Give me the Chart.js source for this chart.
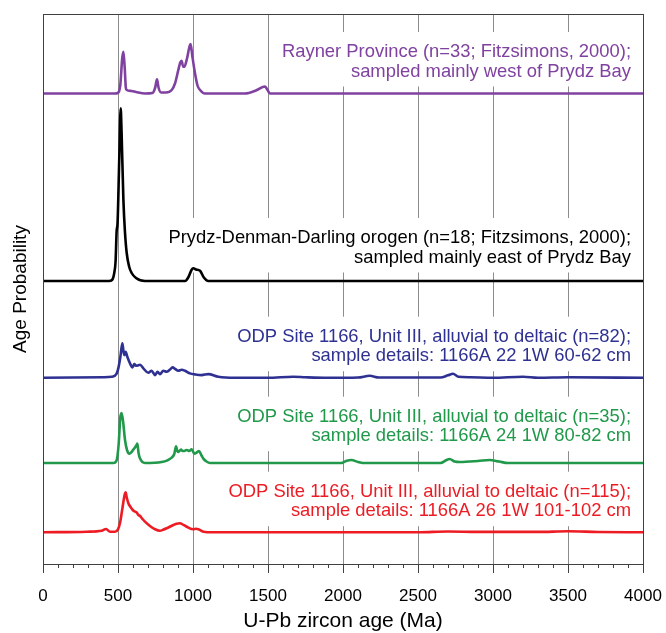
<!DOCTYPE html>
<html><head><meta charset="utf-8">
<script src="https://cdn.jsdelivr.net/npm/chart.js@4/dist/chart.umd.min.js"></script>
<style>html,body{margin:0;padding:0;background:#fff;}#wrap{width:666px;height:633px;}</style>
</head><body><div id="wrap"><canvas id="c" width="666" height="633"></canvas></div>
<script>
// ---- data ----
const xTickValues = [0, 500, 1000, 1500, 2000, 2500, 3000, 3500, 4000];
const xAxisTitle = 'U-Pb zircon age (Ma)';
const yAxisTitle = 'Age Probability';

const seriesNames = ['Rayner Province', 'Prydz-Denman-Darling orogen', 'ODP 1166A 22 1W', 'ODP 1166A 24 1W', 'ODP 1166A 26 1W'];
const seriesColors = ['#8042A0', '#000000', '#2E3192', '#20994A', '#ED1C24'];
// vertical offset (stacking) of each curve, in chart units
const seriesOffsets = [470.5, 283, 186.2, 101, 31.7];

const labelLines = [
  ['Rayner Province (n=33; Fitzsimons, 2000);', 'sampled mainly west of Prydz Bay'],
  ['Prydz-Denman-Darling orogen (n=18; Fitzsimons, 2000);', 'sampled mainly east of Prydz Bay'],
  ['ODP Site 1166, Unit III, alluvial to deltaic (n=82);', 'sample details: 1166A 22 1W 60-62 cm'],
  ['ODP Site 1166, Unit III, alluvial to deltaic (n=35);', 'sample details: 1166A 24 1W 80-82 cm'],
  ['ODP Site 1166, Unit III, alluvial to deltaic (n=115);', 'sample details: 1166A 26 1W 101-102 cm']
];

const raynerAge  = [0, 480, 498, 515, 528, 536, 545, 552, 558, 590, 620, 680, 730, 748, 760, 770, 787, 820, 858, 880, 902, 915, 924, 934, 942, 960, 975, 984, 995, 1013, 1030, 1047, 1080, 1347, 1420, 1480, 1495, 1513, 4000];
const raynerProb = [0, 0, 0.5, 8, 35, 41.8, 25, 6, 3.5, 2.5, 1.5, 0, 0.5, 6, 14.2, 6, 1, 1, 3.5, 10, 23.5, 31, 32.8, 27, 26.8, 35, 46, 49.5, 38, 20.5, 8, 3.5, 0, 0, 3, 7, 4, 0, 0];

const prydzAge  = [0, 440, 460, 475, 484, 491, 497, 508, 518, 524, 536, 546, 558, 575, 591, 620, 680, 947, 970, 990, 1002, 1020, 1047, 1070, 1102, 4000];
const prydzProb = [0, 0, 1, 8, 20, 50, 58, 120, 172.7, 147.7, 81, 50, 28, 14, 8, 3, 0, 0, 4, 11, 12.7, 11.5, 10.3, 4, 0, 0];

const odp22Age  = [0, 400, 458, 490, 502, 515, 529, 536, 542, 551, 562, 580, 596, 609, 620, 631, 647, 669, 702, 724, 747, 764, 780, 802, 824, 845, 864, 880, 902, 925, 947, 980, 1013, 1058, 1102, 1169, 1280, 1500, 1667, 1750, 1900, 2100, 2178, 2240, 2650, 2700, 2733, 2770, 2850, 3000, 3200, 3300, 3500, 4000];
const odp22Prob = [0, 0.5, 1, 4, 9.4, 20, 34.4, 27, 22.7, 26, 21, 14.4, 10.4, 13.7, 12, 12.4, 13, 9.4, 5, 7, 2.7, 6, 3.7, 7, 6, 8, 10.4, 9, 7, 8, 7, 4.4, 3.4, 2.7, 3.7, 1, 0, 0, 1, 0.5, 0, 0.3, 2, 0.3, 0.3, 2.5, 4, 1, 0.5, 0, 1, 0, 0.5, 0];

const odp24Age  = [0, 470, 491, 505, 515, 524, 535, 547, 560, 576, 590, 602, 620, 629, 637, 647, 680, 791, 858, 875, 887, 895, 902, 920, 930, 942, 955, 964, 975, 991, 1009, 1025, 1040, 1055, 1069, 1090, 1113, 1990, 2020, 2056, 2100, 2133, 2650, 2690, 2711, 2745, 2778, 2900, 2978, 3040, 3100, 4000];
const odp24Prob = [0, 0, 2.7, 20, 45, 50, 40, 22.7, 13, 9.4, 11, 13.4, 17, 19.4, 10, 4.4, 0, 1, 5.4, 9, 16.7, 12, 11, 13.4, 12, 12, 13, 12.7, 12, 13.7, 9.4, 10.5, 12, 8, 4.4, 1.5, 0, 0, 2, 3, 1, 0, 0, 3, 4, 1.5, 1, 2, 3, 1.5, 0, 0];

const odp26Age  = [0, 291, 391, 420, 447, 480, 500, 513, 531, 545, 551, 558, 569, 585, 598, 610, 624, 635, 647, 660, 680, 713, 747, 780, 800, 824, 869, 890, 913, 935, 958, 1002, 1020, 1036, 1069, 1136, 2500, 2700, 2900, 3300, 3500, 3700, 4000];
const odp26Prob = [0, 0.6, 1.6, 3.3, 0.6, 0.6, 3, 9, 25.6, 38, 40, 35, 29, 25, 22.3, 21, 20, 17.5, 16.3, 14, 10.6, 6.3, 3, 1.6, 2.5, 4, 7.3, 8.5, 9, 7.5, 5.6, 3, 3.5, 3, 0.6, 0, 0, 0.8, 0.4, 0.4, 1, 0.3, 0];

const seriesAges  = [raynerAge, prydzAge, odp22Age, odp24Age, odp26Age];
const seriesProbs = [raynerProb, prydzProb, odp22Prob, odp24Prob, odp26Prob];

// ---- layout / style ----
const FONT = '"Liberation Sans", Arial, Helvetica, sans-serif';
const labelAnchorAge = 3920;         // right edge of the text blocks
const labelFirstLineY = [512, 326, 227.3, 147.3, 72.3];
const labelLineGap = 19.5;

const datasets = seriesNames.map((name, i) => ({
  label: name,
  data: seriesAges[i].map((a, k) => ({x: a, y: seriesOffsets[i] + seriesProbs[i][k]})),
  borderColor: seriesColors[i],
  borderWidth: 2.6,
  pointRadius: 0,
  fill: false,
  cubicInterpolationMode: 'monotone'
}));

const decor = {
  id: 'decor',
  beforeDatasetsDraw(chart) {
    const {ctx, scales: {x, y}} = chart;
    ctx.save();
    ctx.font = '18.4px ' + FONT;
    ctx.textAlign = 'right';
    ctx.textBaseline = 'middle';
    labelLines.forEach((lines, i) => {
      const xr = x.getPixelForValue(labelAnchorAge);
      const y1 = y.getPixelForValue(labelFirstLineY[i]);
      const y2 = y1 + labelLineGap;
      const w = Math.max(...lines.map(t => ctx.measureText(t).width));
      ctx.fillStyle = '#ffffff';
      ctx.fillRect(xr - w - 8, y1 - 20, w + 12, (y2 + 15) - (y1 - 20));
      ctx.fillStyle = seriesColors[i];
      ctx.fillText(lines[0], xr, y1);
      ctx.fillText(lines[1], xr, y2);
    });
    ctx.restore();
  },
  afterDraw(chart) {
    const {ctx, chartArea: a, scales: {x}} = chart;
    ctx.save();
    ctx.strokeStyle = '#404040';
    ctx.lineWidth = 1;
    ctx.strokeRect(Math.round(a.left) + 0.5, Math.round(a.top) + 0.5, Math.round(a.right - a.left), Math.round(a.bottom - a.top));
    ctx.beginPath();
    for (let v = 100; v < 4000; v += 100) {
      if (v % 500 === 0) continue;
      const px = Math.round(x.getPixelForValue(v)) + 0.5;
      ctx.moveTo(px, a.bottom);
      ctx.lineTo(px, a.bottom + 4);
    }
    ctx.stroke();
    ctx.restore();
  }
};

new Chart(document.getElementById('c'), {
  type: 'line',
  data: {datasets},
  options: {
    responsive: false,
    animation: false,
    devicePixelRatio: 1,
    layout: {padding: {top: 14, right: 23, left: 0, bottom: 0}},
    plugins: {legend: {display: false}, tooltip: {enabled: false}},
    scales: {
      x: {
        type: 'linear', min: 0, max: 4000,
        afterFit(s) { s.height = 69; s.paddingLeft = 0; s.paddingRight = 0; },
        afterBuildTicks(s) { s.ticks = xTickValues.map(v => ({value: v})); },
        ticks: {autoSkip: false, maxRotation: 0, padding: 13, color: '#000', font: {family: FONT, size: 17},
                callback: v => String(v)},
        grid: {color: '#8c8c8c', lineWidth: 1, drawTicks: true, tickLength: 9, tickColor: '#404040'},
        border: {display: true, color: '#404040'},
        title: {display: true, text: xAxisTitle, color: '#000', font: {family: FONT, size: 21, lineHeight: 1}, padding: {top: 0, bottom: 1}}
      },
      y: {
        type: 'linear', min: 0, max: 550,
        afterFit(s) { s.width = 43; },
        ticks: {display: false},
        grid: {display: false, drawTicks: false},
        border: {display: true, color: '#404040'},
        title: {display: true, text: yAxisTitle, color: '#000', font: {family: FONT, size: 19, lineHeight: 1.2}, padding: {top: 9, bottom: 0}}
      }
    }
  },
  plugins: [decor]
});
</script></body></html>
